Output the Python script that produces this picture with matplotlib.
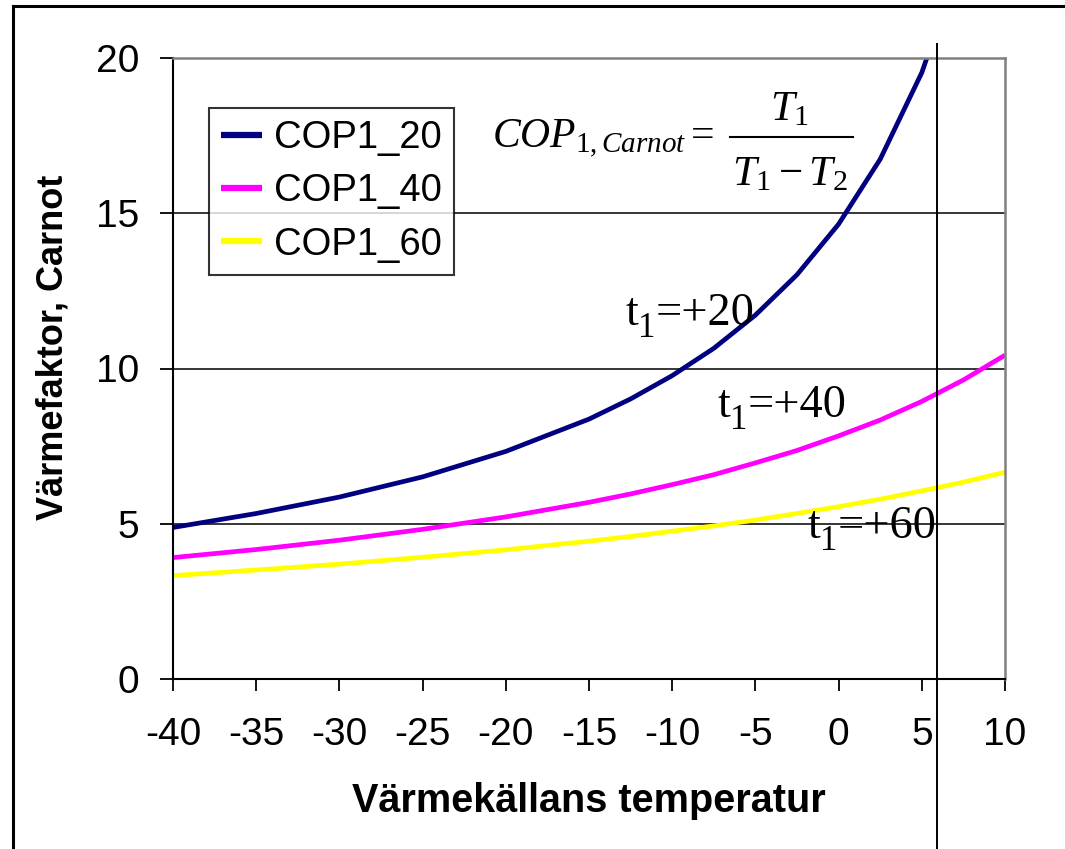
import matplotlib
matplotlib.use("Agg")
import matplotlib.pyplot as plt
from matplotlib.lines import Line2D

plt.rcParams['mathtext.fontset'] = 'custom'
plt.rcParams['mathtext.rm'] = 'Liberation Serif'
plt.rcParams['mathtext.it'] = 'Liberation Serif:italic'
plt.rcParams['font.family'] = ['Liberation Sans', 'DejaVu Sans']

temps = [-40, -35, -30, -25, -20, -15, -12.5, -10, -7.5, -5, -2.5, 0, 2.5, 5, 7.5, 10]
cop1_20 = [4.88, 5.33, 5.86, 6.51, 7.33, 8.37, 9.02, 9.77, 10.65, 11.72, 13.02, 14.65, 16.74, 19.53, 23.4, 29.3]
cop1_40 = [3.91, 4.17, 4.47, 4.82, 5.22, 5.69, 5.96, 6.26, 6.58, 6.96, 7.36, 7.83, 8.34, 8.94, 9.63, 10.43]
cop1_60 = [3.33, 3.51, 3.70, 3.92, 4.16, 4.44, 4.59, 4.76, 4.93, 5.12, 5.33, 5.55, 5.79, 6.06, 6.34, 6.66]
series = [("COP1_20", cop1_20, "#000080"),
          ("COP1_40", cop1_40, "#FF00FF"),
          ("COP1_60", cop1_60, "#FFFF00")]
xticks = [-40, -35, -30, -25, -20, -15, -10, -5, 0, 5, 10]
yticks = [0, 5, 10, 15, 20]
marker_x = 5.9
curve_labels = [("20", 625, 325), ("40", 717, 417), ("60", 807, 538)]

W, H = 1065, 849
fig = plt.figure(figsize=(W / 100, H / 100), dpi=100)
ax = fig.add_axes([173 / W, 1 - 679 / H, (1005 - 173) / W, (679 - 58) / H])

for lab, vals, col in series:
    ax.plot(temps, vals, color=col, lw=3.4, label=lab, solid_capstyle='butt')

ax.set_xlim(-40, 10)
ax.set_ylim(0, 20)
ax.set_xticks(xticks)
ax.set_yticks(yticks)
ax.set_xticklabels([str(t) for t in xticks])
ax.set_yticklabels([str(t) for t in yticks])
ax.tick_params(axis='x', direction='out', length=8.5, width=1.3, labelsize=28, pad=19)
ax.tick_params(axis='y', direction='out', length=9.5, width=1.3, labelsize=28, pad=15)
for y in [5, 10, 15]:
    ax.axhline(y, color='black', lw=1.1, zorder=0.5)
ax.spines['left'].set_color('black')
ax.spines['bottom'].set_color('black')
ax.spines['left'].set_linewidth(1.5)
ax.spines['bottom'].set_linewidth(1.5)
for s in ['top', 'right']:
    ax.spines[s].set_color('#808080')
    ax.spines[s].set_linewidth(1.8)

ax.set_xlabel('Värmekällans temperatur', fontsize=28.5, fontweight='bold')
ax.set_ylabel('Värmefaktor, Carnot', fontsize=26, fontweight='bold')
ax.xaxis.set_label_coords((589 - 173) / 832, (679 - 801) / 621)
ax.yaxis.set_label_coords((53 - 173) / 832, (679 - 347) / 621)
ax.xaxis.label.set_va('center')
ax.yaxis.label.set_va('center')

leg = ax.legend(loc='upper left', bbox_to_anchor=(209 / W, 1 - 108 / H),
                bbox_transform=fig.transFigure, fontsize=27.5, frameon=True,
                fancybox=False, edgecolor='black', handlelength=1.08,
                handletextpad=0.3, labelspacing=0.45, borderpad=0.32, borderaxespad=0)
leg.get_frame().set_linewidth(1.5)
for h in leg.get_lines():
    h.set_linewidth(4.5)

# Carnot formula: left side, fraction numerator, bar, denominator
fig.text(492 / W, 1 - 148 / H, r'$COP_{\mathrm{1,}Carnot}=$',
         fontsize=30, ha='left', va='baseline')
fig.text(790 / W, 1 - 120 / H, r'$T_{\mathrm{1}}$',
         fontsize=31, ha='center', va='baseline')
fig.text(790 / W, 1 - 185 / H, r'$T_{\mathrm{1}}-T_{\mathrm{2}}$',
         fontsize=31, ha='center', va='baseline')
fig.add_artist(Line2D([730 / W, 853 / W], [1 - 137 / H, 1 - 137 / H], color='black',
                      lw=1.5, transform=fig.transFigure))

renderer = fig.canvas.get_renderer()
for val, x0, base in curve_labels:
    t = fig.text(x0 / W, 1 - base / H, 't', fontsize=33, family='Liberation Serif',
                 ha='left', va='baseline')
    x1 = t.get_window_extent(renderer).x1
    s = fig.text(x1 / W, 1 - (base + 12) / H, '1', fontsize=25, family='Liberation Serif',
                 ha='left', va='baseline')
    x2 = s.get_window_extent(renderer).x1
    fig.text(x2 / W, 1 - base / H, '=+' + val, fontsize=33.5, family='Liberation Serif',
             ha='left', va='baseline')

xf = ax.transData.transform((marker_x, 0))[0] / W
fig.add_artist(Line2D([xf, xf], [0, 1 - 44 / H], color='black', lw=1.4,
                      transform=fig.transFigure))
fig.add_artist(Line2D([13 / W, 13 / W], [0, 1 - 6 / H], color='black', lw=2.2,
                      transform=fig.transFigure))
fig.add_artist(Line2D([13 / W, 1], [1 - 6 / H, 1 - 6 / H], color='black', lw=2.2,
                      transform=fig.transFigure))

fig.savefig('out.png', dpi=100)
